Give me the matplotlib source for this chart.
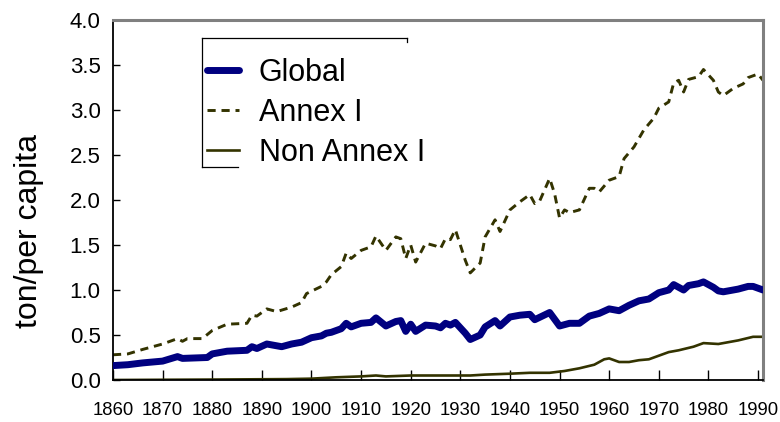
import matplotlib
matplotlib.use("Agg")
import matplotlib.pyplot as plt
from matplotlib.lines import Line2D

# ---- data ----
global_years = [1860, 1863, 1866, 1870, 1873, 1874, 1879, 1880, 1883, 1887, 1888, 1889,
                1891, 1894, 1896, 1898, 1900, 1902, 1903, 1904, 1906, 1907, 1908, 1910,
                1912, 1913, 1915, 1917, 1918, 1919, 1920, 1921, 1923, 1925, 1926, 1927,
                1928, 1929, 1931, 1932, 1934, 1935, 1937, 1938, 1940, 1942, 1944, 1945,
                1948, 1950, 1952, 1954, 1956, 1958, 1960, 1962, 1964, 1966, 1968, 1970,
                1972, 1973, 1975, 1976, 1978, 1979, 1981, 1982, 1983, 1985, 1986, 1988,
                1989, 1991]
global_vals = [0.16, 0.17, 0.19, 0.21, 0.26, 0.24, 0.25, 0.29, 0.32, 0.33, 0.37, 0.35,
               0.40, 0.37, 0.40, 0.42, 0.47, 0.49, 0.52, 0.53, 0.57, 0.63, 0.59, 0.63,
               0.64, 0.69, 0.60, 0.65, 0.66, 0.54, 0.62, 0.54, 0.61, 0.60, 0.58, 0.63,
               0.61, 0.64, 0.52, 0.45, 0.50, 0.59, 0.66, 0.60, 0.70, 0.72, 0.73, 0.67,
               0.75, 0.60, 0.63, 0.63, 0.71, 0.74, 0.79, 0.77, 0.83, 0.88, 0.90, 0.97,
               1.00, 1.06, 1.00, 1.05, 1.07, 1.09, 1.03, 0.99, 0.98, 1.00, 1.01, 1.04,
               1.04, 1.00]

annex_years = [1860, 1863, 1866, 1870, 1873, 1874, 1875, 1878, 1880, 1883, 1887, 1888,
               1889, 1891, 1893, 1896, 1898, 1899, 1902, 1903, 1904, 1906, 1907, 1908,
               1910, 1912, 1913, 1915, 1917, 1918, 1919, 1920, 1921, 1923, 1925, 1926,
               1927, 1928, 1929, 1931, 1932, 1934, 1935, 1937, 1938, 1940, 1942, 1944,
               1945, 1946, 1948, 1949, 1950, 1951, 1952, 1954, 1956, 1957, 1958, 1960,
               1962, 1963, 1965, 1967, 1969, 1970, 1972, 1973, 1974, 1975, 1976, 1978,
               1979, 1981, 1982, 1983, 1985, 1987, 1988, 1990, 1991]
annex_vals = [0.28, 0.29, 0.34, 0.40, 0.46, 0.43, 0.46, 0.46, 0.55, 0.62, 0.63, 0.72,
              0.71, 0.79, 0.76, 0.81, 0.86, 0.96, 1.04, 1.09, 1.17, 1.26, 1.41, 1.35,
              1.44, 1.48, 1.60, 1.44, 1.59, 1.57, 1.35, 1.50, 1.31, 1.52, 1.49, 1.46,
              1.57, 1.56, 1.67, 1.33, 1.19, 1.30, 1.59, 1.78, 1.65, 1.89, 1.98, 2.06,
              1.96, 1.99, 2.24, 2.07, 1.80, 1.89, 1.86, 1.89, 2.13, 2.13, 2.09, 2.22,
              2.26, 2.46, 2.59, 2.78, 2.91, 3.02, 3.09, 3.30, 3.33, 3.20, 3.34, 3.37,
              3.45, 3.33, 3.20, 3.16, 3.24, 3.29, 3.36, 3.40, 3.33]

nonannex_years = [1860, 1880, 1895, 1900, 1905, 1910, 1913, 1915, 1920, 1925, 1930, 1932,
                  1935, 1940, 1944, 1948, 1951, 1954, 1957, 1959, 1960, 1962, 1964, 1966,
                  1968, 1970, 1972, 1974, 1977, 1979, 1982, 1984, 1986, 1989, 1991]
nonannex_vals = [0.00, 0.005, 0.01, 0.015, 0.03, 0.04, 0.05, 0.04, 0.05, 0.05, 0.05, 0.05,
                 0.06, 0.07, 0.08, 0.08, 0.10, 0.13, 0.17, 0.23, 0.24, 0.20, 0.20, 0.22,
                 0.23, 0.27, 0.31, 0.33, 0.37, 0.41, 0.40, 0.42, 0.44, 0.48, 0.48]

series_labels = ["Global", "Annex I", "Non Annex I"]
x_ticks = list(range(1860, 1991, 10))
y_ticks = [0.0, 0.5, 1.0, 1.5, 2.0, 2.5, 3.0, 3.5, 4.0]
y_label = "ton/per capita"

# ---- figure ----
W, H = 780, 422
fig = plt.figure(figsize=(W / 100, H / 100), dpi=100)
ax = fig.add_axes([113 / W, 1 - 380 / H, 650 / W, 360 / H])

navy = "#000080"
olive = "#333300"

ax.plot(global_years, global_vals, color=navy, lw=5.0, solid_joinstyle="round",
        solid_capstyle="round", label=series_labels[0], zorder=3)
ax.plot(annex_years, annex_vals, color=olive, lw=2.1, dashes=(2.8, 2.0),
        label=series_labels[1], zorder=2)
ax.plot(nonannex_years, nonannex_vals, color=olive, lw=1.9,
        label=series_labels[2], zorder=2)

ax.set_xlim(1860, 1991)
ax.set_ylim(0, 4.0)
ax.set_xticks(x_ticks)
ax.set_xticklabels([str(t) for t in x_ticks], family=["Liberation Sans"], fontsize=13.3)
ax.set_yticks(y_ticks)
ax.set_yticklabels([f"{t:.1f}" for t in y_ticks], family=["Liberation Sans"], fontsize=16)
ax.tick_params(axis="x", direction="in", length=7, width=1, pad=16, colors="black")
ax.tick_params(axis="y", direction="in", length=5, width=1, pad=9, colors="black")

for s in ("left", "bottom"):
    ax.spines[s].set_color("black")
    ax.spines[s].set_linewidth(1.3)
for s in ("top", "right"):
    ax.spines[s].set_color("#808080")
    ax.spines[s].set_linewidth(2.2)

fig.text(29 / W, 1 - 231 / H, y_label, rotation=90, ha="center", va="center",
         family=["Liberation Sans"], fontsize=23)

leg = ax.legend(loc="upper left", bbox_to_anchor=(207 / W, 1 - 58 / H),
                bbox_transform=fig.transFigure, frameon=False,
                prop={"family": "Liberation Sans", "size": 22},
                handlelength=1.05, handletextpad=0.65, labelspacing=0.32,
                borderpad=0.0, borderaxespad=0.0)


# partial legend box outline as in the reference
def seg(x0, y0, x1, y1):
    fig.add_artist(Line2D([x0 / W, x1 / W], [1 - y0 / H, 1 - y1 / H],
                          color="black", lw=0.9, transform=fig.transFigure))


seg(202, 38, 407, 38)
seg(202, 38, 202, 167)
seg(202, 167, 238, 167)
seg(407, 38, 407, 42)

fig.savefig("out.png", dpi=100)
